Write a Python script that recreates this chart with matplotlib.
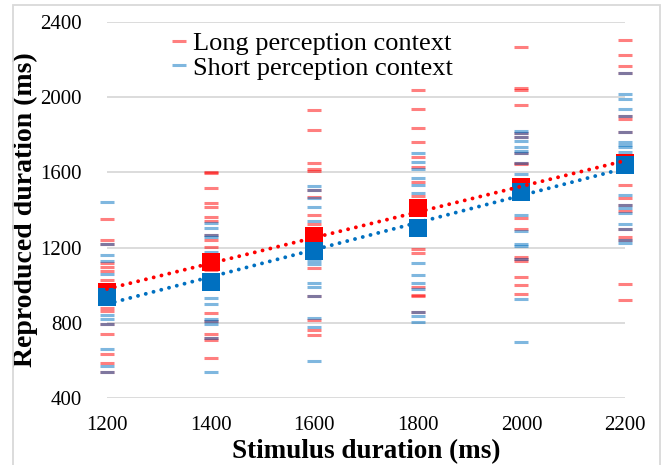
import numpy as np
import matplotlib
matplotlib.use("Agg")
import matplotlib.pyplot as plt
from matplotlib.patches import Rectangle

plt.rcParams["font.family"] = ["Liberation Serif", "DejaVu Serif"]

stimulus = [1200, 1400, 1600, 1800, 2000, 2200]

# individual reproductions (ms)
long_trials = {
    1200: [1353, 1241, 1220, 1117, 1096, 1073, 1028, 990, 960, 930, 878, 865, 795, 740, 633, 586, 538],
    1400: [1601, 1596, 1516, 1438, 1415, 1362, 1344, 1266, 1240, 1202, 1150, 1120, 1080, 851, 807, 740, 719, 710, 612],
    1600: [1931, 1824, 1649, 1620, 1608, 1507, 1471, 1372, 1324, 1290, 1250, 1200, 1090, 942, 816, 763, 734],
    1800: [2037, 1936, 1835, 1760, 1681, 1631, 1548, 1477, 1440, 1410, 1380, 1195, 1170, 993, 949, 940, 857],
    2000: [2265, 2050, 2039, 1957, 1808, 1790, 1702, 1652, 1645, 1540, 1356, 1300, 1152, 1142, 1131, 1046, 1000, 952],
    2200: [2303, 2223, 2164, 2127, 1902, 1884, 1817, 1680, 1640, 1532, 1463, 1426, 1395, 1298, 1255, 1241, 1006, 920],
}
short_trials = {
    1200: [1441, 1220, 1160, 1129, 1059, 970, 940, 910, 842, 819, 795, 662, 571, 538],
    1400: [1330, 1303, 1266, 1259, 1176, 1060, 1020, 990, 931, 899, 821, 807, 793, 719, 538],
    1600: [1528, 1507, 1463, 1415, 1341, 1200, 1160, 1129, 1113, 1012, 993, 942, 826, 777, 596],
    1800: [1702, 1656, 1617, 1569, 1533, 1489, 1330, 1280, 1117, 1053, 1011, 982, 857, 836, 804],
    2000: [1821, 1808, 1790, 1766, 1734, 1713, 1702, 1652, 1590, 1500, 1372, 1287, 1220, 1211, 1142, 926, 697],
    2200: [2127, 2017, 1989, 1936, 1902, 1817, 1760, 1748, 1737, 1707, 1640, 1479, 1426, 1410, 1383, 1324, 1298, 1241, 1227],
}

long_mean = [962, 1123, 1261, 1412, 1521, 1648]
short_mean = [938, 1015, 1180, 1302, 1494, 1637]

red = "#FF0000"
blue = "#0070C0"

fig = plt.figure(figsize=(6.62, 4.65), dpi=100)
ax = fig.add_axes([107 / 662, 1 - 398 / 465, 518 / 662, 376 / 465])

# chart border like the office export
fig.patches.append(Rectangle((13 / 662, -0.05), (660 - 13) / 662, 1 - 5 / 465 + 0.05,
                             transform=fig.transFigure, fill=False,
                             edgecolor="#D9D9D9", linewidth=1.3))

for x in stimulus:
    ax.plot([x] * len(long_trials[x]), long_trials[x], linestyle="none", marker="_",
            markersize=10, markeredgewidth=2.2, color=red, alpha=0.5, clip_on=False, zorder=2)
    ax.plot([x] * len(short_trials[x]), short_trials[x], linestyle="none", marker="_",
            markersize=10, markeredgewidth=2.2, color=blue, alpha=0.5, clip_on=False, zorder=2)

ax.plot(stimulus, long_mean, linestyle="none", marker="s", markersize=13.5,
        markeredgewidth=0, color=red, clip_on=False, zorder=3)
ax.plot(stimulus, short_mean, linestyle="none", marker="s", markersize=13.5,
        markeredgewidth=0, color=blue, clip_on=False, zorder=4)

# linear trend lines
xs = np.array([stimulus[0], stimulus[-1]])
for means, c in [(long_mean, red), (short_mean, blue)]:
    k, b = np.polyfit(stimulus, means, 1)
    ax.plot(xs, k * xs + b, color=c, linewidth=2.8, linestyle=(0, (0.01, 2.05)),
            dash_capstyle="round", clip_on=False, zorder=5)

# legend entries
ax.plot([], [], linestyle="none", marker="_", markersize=10, markeredgewidth=2.2,
        color=red, alpha=0.5, label="Long perception context")
ax.plot([], [], linestyle="none", marker="_", markersize=10, markeredgewidth=2.2,
        color=blue, alpha=0.5, label="Short perception context")
handles, labels = ax.get_legend_handles_labels()
ax.legend(handles[-2:], labels[-2:], loc="upper left", bbox_to_anchor=(0.1, 1.01),
          frameon=False, fontsize=19, handlelength=0.5, handletextpad=0.3,
          labelspacing=0.05, borderpad=0)

ax.set_xlim(1200, 2200)
ax.set_ylim(400, 2400)
ax.set_xticks(stimulus)
ax.set_yticks(range(400, 2401, 400))
ax.grid(axis="y", color="#D9D9D9", linewidth=1.3)
ax.set_axisbelow(True)
for s in ax.spines.values():
    s.set_visible(False)
ax.tick_params(axis="both", length=0, labelsize=15)
ax.tick_params(axis="y", pad=18)
ax.tick_params(axis="x", pad=13)

ax.set_xlabel("Stimulus duration (ms)", fontsize=19.5, fontweight="bold", labelpad=3)
ax.set_ylabel("Reproduced duration (ms)", fontsize=20, fontweight="bold", labelpad=2)

fig.savefig("out.png", dpi=100)
